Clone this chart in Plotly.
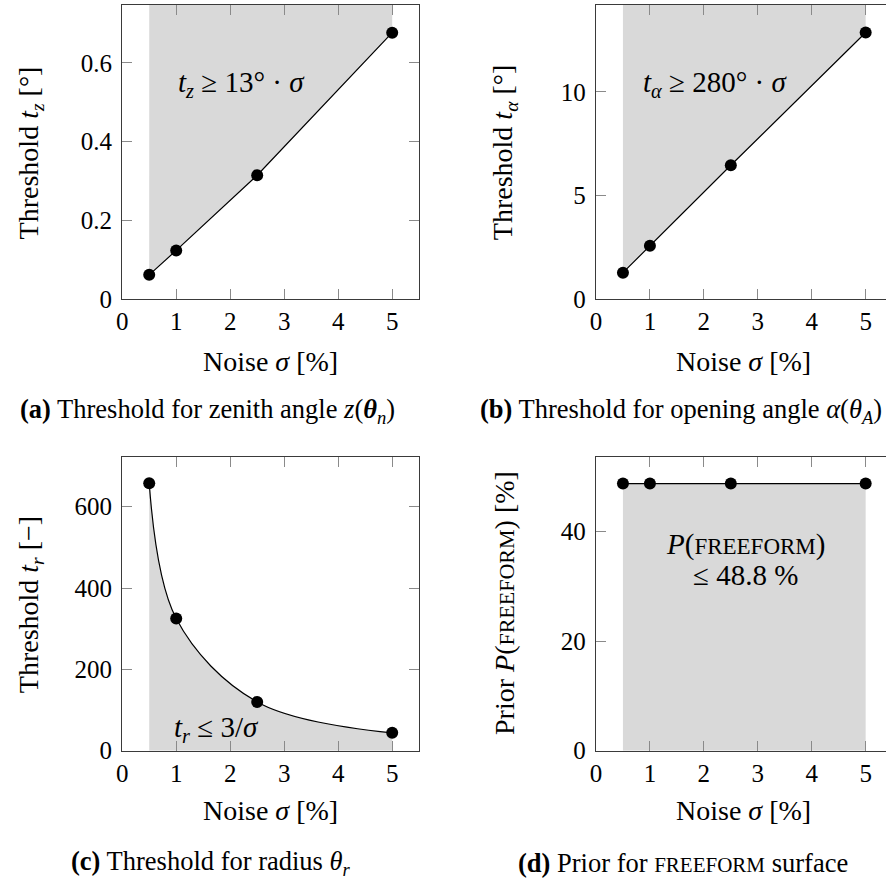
import plotly.graph_objects as go

# Noise levels (percent) shared by all four panels
noise = [0.5, 1.0, 2.5, 5.0]

# Panel values
t_zenith = [0.062, 0.124, 0.315, 0.677]      # threshold t_z [deg]
t_opening = [1.28, 2.58, 6.46, 12.86]         # threshold t_alpha [deg]
t_radius = [658, 325, 120, 44]                # threshold t_r [-]
p_freeform = [48.8, 48.8, 48.8, 48.8]         # prior P(freeform) [%]

x_ticks = [0, 1, 2, 3, 4, 5]
ticks_a = [0, 0.2, 0.4, 0.6]
ticks_b = [0, 5, 10]
ticks_c = [0, 200, 400, 600]
ticks_d = [0, 20, 40]

W, H = 886, 892
FONT = "Liberation Serif"
FS_TICK = 25
FS_TITLE = 28
FS_CAP = 26.5
FS_IN = 29
FILL = "#d9d9d9"
SPINE = "#3a3a3a"
TICK = "#8a8a8a"


def px(xp):
    return xp / W


def py(yp):
    return 1 - yp / H


fig = go.Figure()

# axis ranges
yr_a = [0, 0.7475]
yr_b = [0, 14.19]
yr_c = [0, 723]
yr_d = [0, 53.7]
xr_left = [0, 5.5]
xr_right = [0, 5.377]

# (a) shaded region above the line
fig.add_trace(go.Scatter(
    x=noise + [noise[-1], noise[0]], y=t_zenith + [yr_a[1], yr_a[1]],
    fill="toself", fillcolor=FILL, line=dict(width=0), mode="lines",
    xaxis="x", yaxis="y", hoverinfo="skip"))
fig.add_trace(go.Scatter(
    x=noise, y=t_zenith, mode="lines+markers",
    line=dict(color="black", width=1.2), marker=dict(color="black", size=12),
    xaxis="x", yaxis="y"))

# (b)
fig.add_trace(go.Scatter(
    x=noise + [noise[-1], noise[0]], y=t_opening + [yr_b[1], yr_b[1]],
    fill="toself", fillcolor=FILL, line=dict(width=0), mode="lines",
    xaxis="x2", yaxis="y2", hoverinfo="skip"))
fig.add_trace(go.Scatter(
    x=noise, y=t_opening, mode="lines+markers",
    line=dict(color="black", width=1.2), marker=dict(color="black", size=12),
    xaxis="x2", yaxis="y2"))

# (c) shaded region below the smooth curve
fig.add_trace(go.Scatter(
    x=noise, y=t_radius, mode="lines", fill="tozeroy", fillcolor=FILL,
    line=dict(color="black", width=1.2, shape="spline", smoothing=1.0),
    xaxis="x3", yaxis="y3", hoverinfo="skip"))
fig.add_trace(go.Scatter(
    x=noise, y=t_radius, mode="markers",
    marker=dict(color="black", size=12), xaxis="x3", yaxis="y3"))

# (d)
fig.add_trace(go.Scatter(
    x=noise, y=p_freeform, mode="lines", fill="tozeroy", fillcolor=FILL,
    line=dict(color="black", width=1.2), xaxis="x4", yaxis="y4",
    hoverinfo="skip"))
fig.add_trace(go.Scatter(
    x=noise, y=p_freeform, mode="markers",
    marker=dict(color="black", size=12), xaxis="x4", yaxis="y4"))

dom_x_left = [px(117), px(416)]
dom_x_right = [px(594), 1.0]
dom_y_top = [py(304), py(5)]
dom_y_bot = [py(762.7), py(464)]


def xaxis(domain, rng, anchor, mirror=True):
    return dict(domain=domain, range=rng, anchor=anchor, tickvals=x_ticks,
                ticks="inside", ticklen=10, tickcolor=TICK, tickwidth=1,
                showline=True, linecolor=SPINE, linewidth=1.3,
                mirror="ticks" if mirror else False, showgrid=False,
                zeroline=False,
                tickfont=dict(family=FONT, size=FS_TICK, color="black"))


def yaxis(domain, rng, anchor, vals, text=None, mirror=True):
    d = dict(domain=domain, range=rng, anchor=anchor, tickvals=vals,
             ticks="inside", ticklen=10, tickcolor=TICK, tickwidth=1,
             showline=True, linecolor=SPINE, linewidth=1.3,
             mirror="ticks" if mirror else False, showgrid=False,
             zeroline=False, ticklabelstandoff=4,
             tickfont=dict(family=FONT, size=FS_TICK, color="black"))
    if text is not None:
        d["ticktext"] = text
    return d


fig.update_layout(
    width=W, height=H, margin=dict(l=0, r=0, t=0, b=0),
    paper_bgcolor="white", plot_bgcolor="white", showlegend=False,
    font=dict(family=FONT, size=FS_TICK, color="black"),
    xaxis=xaxis(dom_x_left, xr_left, "y"),
    yaxis=yaxis(dom_y_top, yr_a, "x", ticks_a, ["0", "0.2", "0.4", "0.6"]),
    xaxis2=xaxis(dom_x_right, xr_right, "y2"),
    yaxis2=yaxis(dom_y_top, yr_b, "x2", ticks_b, mirror=False),
    xaxis3=xaxis(dom_x_left, xr_left, "y3"),
    yaxis3=yaxis(dom_y_bot, yr_c, "x3", ticks_c),
    xaxis4=xaxis(dom_x_right, xr_right, "y4"),
    yaxis4=yaxis(dom_y_bot, yr_d, "x4", ticks_d, mirror=False),
)


def small_caps(word, size):
    return "<span style='font-size:%spx'>%s</span>" % (size, word)


def note(text, x, y, size, angle=0, xanchor="center"):
    fig.add_annotation(text=text, x=px(x), y=py(y), xref="paper", yref="paper",
                       showarrow=False, textangle=angle, xanchor=xanchor,
                       yanchor="middle",
                       font=dict(family=FONT, size=size, color="black"))


# in-plot labels
note("<i>t<sub>z</sub></i> ≥ 13° · <i>σ</i>", 237, 85, FS_IN)
note("<i>t<sub>α</sub></i> ≥ 280° · <i>σ</i>", 714, 85, FS_IN)
note("<i>t<sub>r</sub></i> ≤ 3/<i>σ</i>", 212, 741, FS_IN)
note("<i>P</i>(" + small_caps("FREEFORM", 23) + ")", 745, 553, FS_IN)
note("≤ 48.8 %", 745, 584, FS_IN)

# axis titles
for xc in (266, 742.5):
    note("Noise <i>σ</i> [%]", xc, 367, FS_TITLE)
    note("Noise <i>σ</i> [%]", xc, 823, FS_TITLE)
note("Threshold <i>t<sub>z</sub></i> [°]", 25, 155, FS_TITLE, angle=-90)
note("Threshold <i>t<sub>α</sub></i> [°]", 502, 155, FS_TITLE, angle=-90)
note("Threshold <i>t<sub>r</sub></i> [−]", 25, 614, FS_TITLE, angle=-90)
note("Prior <i>P</i>(" + small_caps("FREEFORM", 22) + ") [%]", 502, 613,
     FS_TITLE, angle=-90)

# sub-figure captions
note("<b>(a)</b> Threshold for zenith angle <i>z</i>(<b><i>θ</i></b><sub><i>n</i></sub>)",
     12, 418, FS_CAP, xanchor="left")
note("<b>(b)</b> Threshold for opening angle <i>α</i>(<i>θ<sub>A</sub></i>)",
     475, 418, FS_CAP, xanchor="left")
note("<b>(c)</b> Threshold for radius <i>θ<sub>r</sub></i>",
     63, 877, FS_CAP, xanchor="left")
note("<b>(d)</b> Prior for " + small_caps("FREEFORM", 21) + " surface",
     513, 877, FS_CAP, xanchor="left")

fig.write_html("out.html")
